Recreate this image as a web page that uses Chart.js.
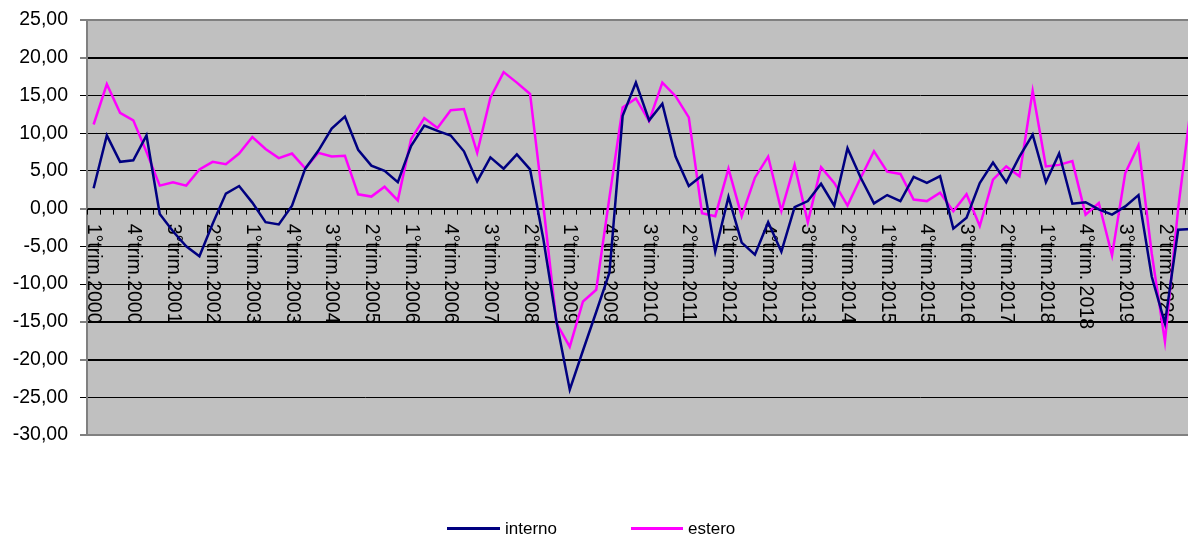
<!DOCTYPE html>
<html>
<head>
<meta charset="utf-8">
<style>
  body { margin:0; padding:0; background:#fff; overflow:hidden; width:1188px; height:535px; position:relative; }
  #wrap { position:absolute; left:0; top:0; width:1199px; height:535px; }
  .leg { position:absolute; top:519px; height:18px; line-height:18px; font:17px "Liberation Sans", Arial, sans-serif; color:#000; white-space:nowrap; }
  .leg .sw { position:absolute; top:8px; left:0; height:3px; }
</style>
</head>
<body>
<div id="wrap"><canvas id="chart" width="1199" height="535"></canvas></div>
<div class="leg" style="left:447px"><span class="sw" style="width:53px;background:#000080"></span><span style="position:absolute;left:58px">interno</span></div>
<div class="leg" style="left:631px"><span class="sw" style="width:52px;background:#ff00ff"></span><span style="position:absolute;left:57px">estero</span></div>

<script src="https://cdn.jsdelivr.net/npm/chart.js"></script>
<script>
// quarters from Q1 2000 to Q4 2020
const years = [2000, 2001, 2002, 2003, 2004, 2005, 2006, 2007, 2008, 2009, 2010,
               2011, 2012, 2013, 2014, 2015, 2016, 2017, 2018, 2019, 2020];
const quarters = [];
years.forEach(y => { for (let q = 1; q <= 4; q++) quarters.push(q + '°trim.' + y); });

// labels shown on the axis, one every 3 quarters
const labelStep = 3;
const tickLabels = ['1°trim.2000', '4°trim.2000', '3°trim.2001', '2°trim.2002', '1°trim.2003', '4°trim.2003',
  '3°trim.2004', '2°trim.2005', '1°trim.2006', '4°trim.2006', '3°trim.2007', '2°trim.2008', '1°trim.2009',
  '4°trim.2009', '3°trim.2010', '2°trim.2011', '1°trim.2012', '4°trim.2012', '3°trim.2013', '2°trim.2014',
  '1°trim.2015', '4°trim.2015', '3°trim.2016', '2°trim.2017', '1°trim.2018', '4°trim. 2018', '3°trim.2019',
  '2°trim.2020'];

const interno = [
  2.7, 9.7, 6.2, 6.4, 9.7, -0.7, -3.0, -5.0, -6.3, -2.0,
  2.0, 3.0, 0.8, -1.8, -2.1, 0.4, 5.3, 7.7, 10.6, 12.2,
  7.8, 5.7, 5.0, 3.5, 8.3, 11.0, 10.3, 9.7, 7.6, 3.6,
  6.8, 5.3, 7.2, 5.2, -4.0, -15.0, -24.0, -18.8, -13.7, -8.5,
  12.3, 16.7, 11.7, 13.9, 6.9, 3.0, 4.4, -5.7, 1.55, -4.5,
  -6.1, -1.8, -5.7, 0.2, 1.0, 3.3, 0.4, 8.0, 4.1, 0.7,
  1.8, 1.0, 4.2, 3.4, 4.3, -2.65, -1.2, 3.4, 6.1, 3.5,
  6.9, 9.8, 3.5, 7.3, 0.65, 0.85, -0.1, -0.8, 0.3, 1.8,
  -9.0, -15.2, -2.8, -2.7
];
const estero = [
  11.15, 16.5, 12.7, 11.7, 7.5, 3.05, 3.5, 3.05, 5.2, 6.2,
  5.9, 7.3, 9.5, 7.9, 6.7, 7.3, 5.35, 7.4, 6.9, 7.0,
  1.9, 1.6, 2.9, 1.1, 9.2, 12.0, 10.7, 13.05, 13.2, 7.4,
  14.7, 18.1, 16.7, 15.2, 0.5, -15.2, -18.3, -12.3, -10.75, 1.5,
  13.4, 14.6, 11.6, 16.7, 14.9, 12.1, -0.6, -1.0, 5.3, -1.0,
  4.1, 6.9, -0.3, 5.8, -1.8, 5.5, 3.4, 0.4, 4.1, 7.6,
  4.9, 4.6, 1.2, 1.0, 2.1, -0.35, 1.9, -2.3, 3.85, 5.6,
  4.3, 15.6, 5.6, 5.8, 6.3, -0.8, 0.75, -6.2, 4.7, 8.4,
  -5.9, -17.6, 0.0, 14.0
];

const FONT = '"Liberation Sans", Arial, sans-serif';

// gray plot area
const plotBg = {
  id: 'plotBg',
  beforeDraw(chart) {
    const { ctx, chartArea: a } = chart;
    ctx.save();
    ctx.fillStyle = '#c0c0c0';
    ctx.fillRect(a.left, a.top, a.right - a.left, a.bottom - a.top);
    ctx.restore();
  }
};

// quarter ticks and rotated labels sitting on the zero line
const quarterAxis = {
  id: 'quarterAxis',
  beforeDatasetsDraw(chart) {
    const { ctx, scales: { x, y } } = chart;
    const y0 = y.getPixelForValue(0);
    ctx.save();
    ctx.strokeStyle = '#000';
    ctx.lineWidth = 1;
    ctx.beginPath();
    for (let i = 0; i <= quarters.length; i++) {
      const px = Math.round(x.getPixelForValue(i - 0.5)) + 0.5;
      ctx.moveTo(px, y0);
      ctx.lineTo(px, y0 + 6);
    }
    ctx.stroke();
    ctx.fillStyle = '#000';
    ctx.font = '19.5px ' + FONT;
    ctx.textAlign = 'left';
    ctx.textBaseline = 'middle';
    tickLabels.forEach((lab, k) => {
      const px = x.getPixelForValue(k * labelStep);
      ctx.save();
      ctx.translate(px, y0 + 15);
      ctx.rotate(Math.PI / 2);
      ctx.fillText(lab, 0, 0);
      ctx.restore();
    });
    ctx.restore();
  }
};

const thick = [20, 0, -15, -20];

new Chart(document.getElementById('chart'), {
  type: 'line',
  data: {
    labels: quarters,
    datasets: [
      { label: 'interno', data: interno, borderColor: '#000080', borderWidth: 2.5, pointRadius: 0, tension: 0, fill: false },
      { label: 'estero', data: estero, borderColor: '#ff00ff', borderWidth: 2.5, pointRadius: 0, tension: 0, fill: false }
    ]
  },
  options: {
    responsive: false,
    animation: false,
    devicePixelRatio: 1,
    layout: { padding: { top: 20, right: 1, bottom: 100, left: 0 } },
    plugins: { legend: { display: false }, tooltip: { enabled: false } },
    scales: {
      x: {
        offset: true,
        grid: { display: false },
        border: { display: false },
        ticks: { display: false },
        afterFit(scale) { scale.height = 0; }
      },
      y: {
        min: -30,
        max: 25,
        ticks: {
          stepSize: 5,
          padding: 12,
          color: '#000',
          font: { family: FONT, size: 19.5 },
          callback: v => v.toFixed(2).replace('.', ',')
        },
        grid: {
          tickLength: 7,
          tickColor: '#000',
          tickWidth: 1,
          color: c => (c.tick && (c.tick.value === 25 || c.tick.value === -30)) ? '#808080' : '#000',
          lineWidth: c => {
            const v = c.tick ? c.tick.value : null;
            if (v === 25 || v === -30) return 2;
            return thick.includes(v) ? 2 : 1;
          }
        },
        border: { display: true, color: '#808080', width: 2 },
        afterFit(scale) {
          scale.width = 87;
          scale.paddingTop = 0;
          scale.paddingBottom = 0;
        }
      }
    }
  },
  plugins: [plotBg, quarterAxis]
});
</script>
</body>
</html>
